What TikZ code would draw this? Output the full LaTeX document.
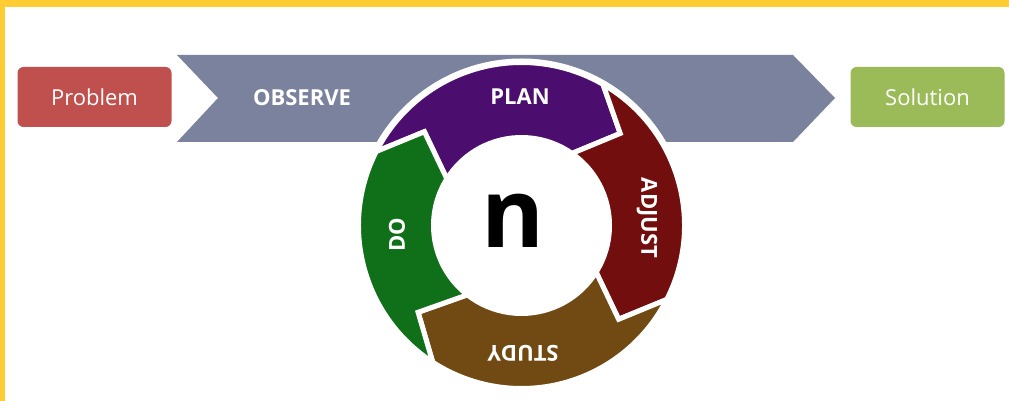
\documentclass[tikz,border=0pt]{standalone}
\usepackage{fontspec}
\setmainfont{Open Sans}
\definecolor{ybar}{HTML}{FFCC33}
\definecolor{chev}{HTML}{7B829E}
\definecolor{probc}{HTML}{C0504D}
\definecolor{solc}{HTML}{9BBB59}
\definecolor{planc}{HTML}{4B0D6E}
\definecolor{adjc}{HTML}{730E0E}
\definecolor{studyc}{HTML}{704A12}
\definecolor{doc}{HTML}{10701A}
\tikzset{
  endbox/.style={rounded corners=6pt, minimum width=154pt, minimum height=60pt, inner sep=0pt,
    text=white, font=\fontsize{22}{26}\selectfont},
  lbl/.style={text=white, inner sep=0pt, font=\bfseries\fontsize{22}{26}\selectfont},
  ringseg/.style={draw=white, line width=5pt, line join=miter}
}
\newcommand{\RingSeg}[3]{% color, tail angle, head angle
  \path[ringseg, fill=#1] (#2:163) arc[start angle=#2, end angle=#3, radius=163]
    -- ({#3-17}:135) -- ({#3-5}:88) arc[start angle={#3-5}, end angle={#2-5}, radius=88]
    -- ({#2-17}:135) -- cycle;}
\begin{document}
\begin{tikzpicture}[x=1pt,y=1pt]
\path[fill=white] (0,0) -- (1009,0) -- (1009,401) -- (0,401) -- cycle;
\path[fill=ybar] (0,394) -- (1009,394) -- (1009,401) -- (0,401) -- cycle;
\path[fill=ybar] (0,0) -- (5,0) -- (5,401) -- (0,401) -- cycle;
\useasboundingbox (0,0) rectangle (1009,401);
% big chevron
\fill[chev] (177,346) -- (793,346) -- (835,303) -- (793,259) -- (177,259) -- (218,303) -- cycle;
\node[lbl] (observe) at (302,303) {OBSERVE};
% end boxes
\node[endbox, fill=probc] (problem) at (94.5,304) {Problem};
\node[endbox, fill=solc] (solution) at (927.5,304) {Solution};
% ring
\begin{scope}[shift={(521.5,175.5)}]
  \fill[white] (0,0) circle[radius=167];
  \RingSeg{planc}{153}{60}
  \RingSeg{adjc}{60}{-27}
  \RingSeg{studyc}{-27}{-123}
  \RingSeg{doc}{-123}{-207}
  \fill[white] (0,0) circle[radius=88];
\end{scope}
\node[lbl] (plan) at (520,304) {PLAN};
\node[lbl, rotate=-90] (adjust) at (647,183) {ADJUST};
\node[lbl, rotate=180] (study) at (523,48) {STUDY};
\node[lbl, rotate=90] (do) at (397,166) {DO};
\node[inner sep=0pt, font=\bfseries\fontsize{96}{96}\selectfont] (n) at (513,180.5) {n};
\end{tikzpicture}
\end{document}
